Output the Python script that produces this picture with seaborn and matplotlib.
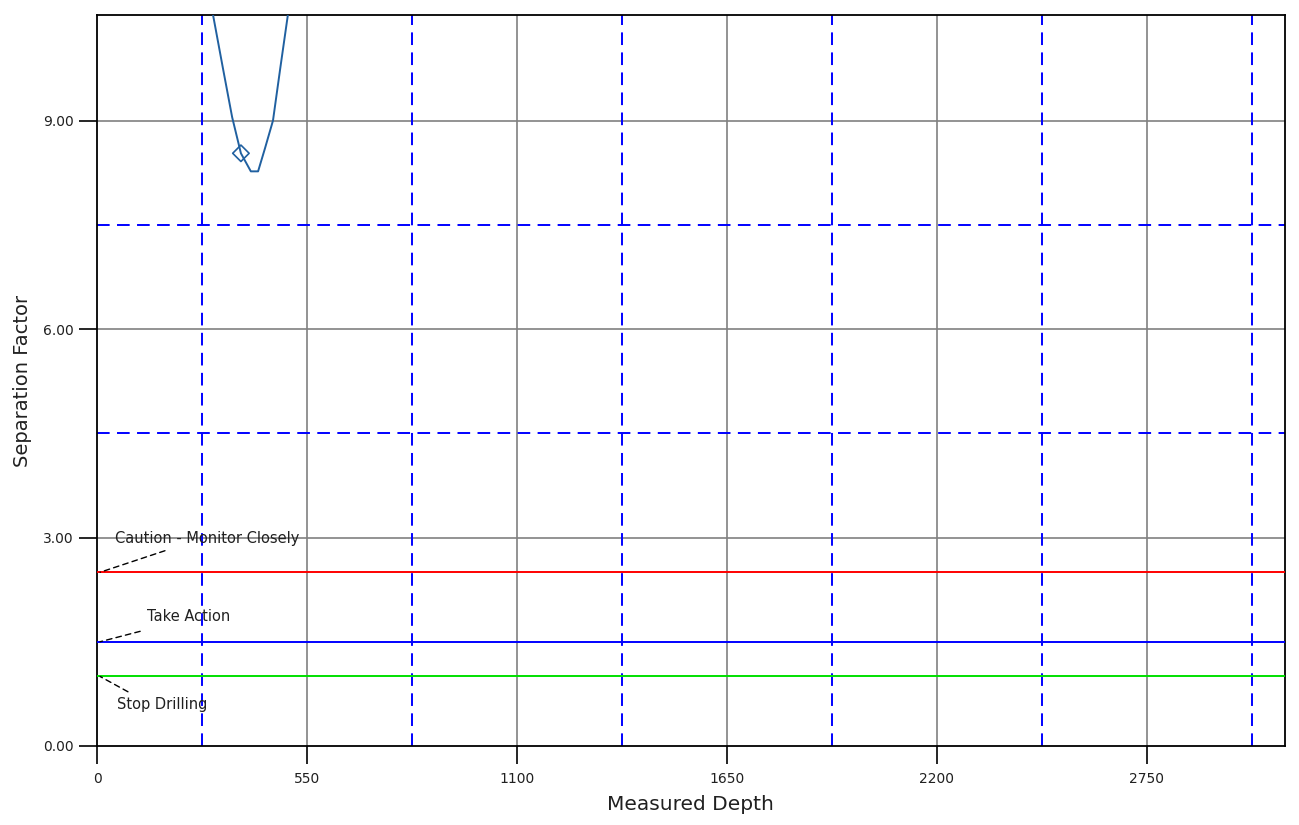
import matplotlib
matplotlib.use("Agg")
import matplotlib.pyplot as plt
import seaborn as sns
import pandas as pd

# ---- data ----
md = [288, 304, 330, 354, 377, 403, 422, 440, 461, 480, 500, 512]
sep_factor = [11.0, 10.52, 9.75, 9.05, 8.53, 8.27, 8.27, 8.6, 9.0, 9.75, 10.52, 11.0]
marker_md = [377]
marker_sf = [8.53]

threshold_names = ["Caution - Monitor Closely", "Take Action", "Stop Drilling"]
threshold_values = [2.5, 1.5, 1.0]
threshold_colors = ["#ff0000", "#0000ff", "#00e000"]
label_md = [47, 131, 52]
label_sf = [2.99, 1.87, 0.60]
leader_md = [178, 113, 81]
leader_sf = [2.81, 1.65, 0.78]

x_ticks = [0, 550, 1100, 1650, 2200, 2750]
y_ticks = [0.0, 3.0, 6.0, 9.0]
x_minor = [275, 825, 1375, 1925, 2475, 3025]
y_minor = [4.5, 7.5]
x_max = 3112
y_max = 10.52

sns.set_theme(style="white")
plt.rcParams['font.family'] = ['DejaVu Sans']

fig = plt.figure(figsize=(12.99, 8.25), dpi=100)
ax = fig.add_axes([0.0747, 0.0958, 0.9143, 0.886])

# grid
for xv in x_ticks[1:]:
    ax.axvline(xv, color="#808080", lw=1.2, zorder=1)
for yv in y_ticks[1:]:
    ax.axhline(yv, color="#808080", lw=1.2, zorder=1)
dash = (0, (6.5, 3.8))
for xv in x_minor:
    ax.axvline(xv, color="#0000ff", lw=1.4, ls=dash, zorder=1)
for yv in y_minor:
    ax.axhline(yv, color="#0000ff", lw=1.4, ls=dash, zorder=1)

# threshold lines
for name, val, col in zip(threshold_names, threshold_values, threshold_colors):
    d = pd.DataFrame({"x": [0, x_max], "y": [val, val]})
    sns.lineplot(data=d, x="x", y="y", color=col, lw=1.4, ax=ax, zorder=3)

# curve
df = pd.DataFrame({"md": md, "sf": sep_factor})
sns.lineplot(data=df, x="md", y="sf", color="#2060a0", lw=1.4, ax=ax, sort=False, zorder=4)
ax.scatter(marker_md, marker_sf, marker="D", s=70, facecolors="none",
           edgecolors="#2060a0", linewidths=1.2, zorder=5)

# annotations with dashed leaders
for name, val, lx, ly, ex, ey in zip(threshold_names, threshold_values,
                                     label_md, label_sf, leader_md, leader_sf):
    ax.annotate("", xy=(8, val), xytext=(ex, ey),
                arrowprops=dict(arrowstyle="-", color="black", lw=1.0,
                                ls=(0, (4, 3)), shrinkA=0, shrinkB=0))
    ax.text(lx, ly, name, fontsize=10.5, ha="left", va="center", color="#202020")

ax.set_xlim(0, x_max)
ax.set_ylim(0, y_max)
ax.set_xticks(x_ticks)
ax.set_xticklabels([str(v) for v in x_ticks])
ax.set_yticks(y_ticks)
ax.set_yticklabels([f"{v:.2f}" for v in y_ticks])
ax.tick_params(axis="both", direction="out", length=13, width=1.2, color="black",
               labelsize=10, labelcolor="#202020", bottom=True, left=True, pad=4)
ax.tick_params(axis="x", pad=6)

for s in ax.spines.values():
    s.set_color("black")
    s.set_linewidth(1.3)

ax.set_xlabel("Measured Depth", fontsize=14.5, color="#202020", labelpad=6)
ax.set_ylabel("Separation Factor", fontsize=14, color="#202020", labelpad=8)

fig.savefig("out.png", dpi=100)
